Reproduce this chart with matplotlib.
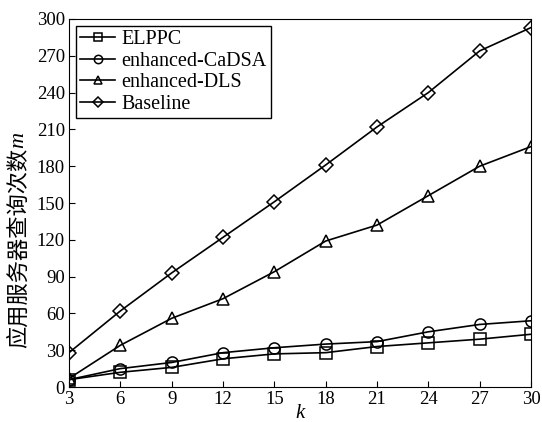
import matplotlib.pyplot as plt

plt.rcParams['font.family'] = ['Liberation Serif', 'Noto Sans CJK SC']

k = [3, 6, 9, 12, 15, 18, 21, 24, 27, 30]
elppc = [6, 12, 16, 23, 27, 28, 33, 36, 39, 43]
cadsa = [6, 15, 20, 28, 32, 35, 37, 45, 51, 54]
dls = [7, 34, 56, 72, 94, 119, 132, 156, 180, 196]
baseline = [28, 62, 93, 122, 151, 181, 212, 240, 274, 293]

series = [
    ("ELPPC", elppc, "s"),
    ("enhanced-CaDSA", cadsa, "o"),
    ("enhanced-DLS", dls, "^"),
    ("Baseline", baseline, "D"),
]

fig = plt.figure(figsize=(5.42, 4.22), dpi=100)
ax = fig.add_axes([0.1273, 0.0829, 0.8524, 0.8721])

for name, vals, mk in series:
    ms = 7 if mk == "D" else 8
    ax.plot(k, vals, color="black", linewidth=1.2, marker=mk, markersize=ms,
            markerfacecolor="none", markeredgewidth=1.1, label=name)

ax.set_xlim(3, 30)
ax.set_ylim(0, 300)
ax.set_xticks(k)
ax.set_yticks(range(0, 301, 30))
ax.tick_params(direction="in", labelsize=13.5, length=4, pad=3)
ax.set_xlabel("k", fontsize=15, fontstyle="italic", labelpad=-3)

# y label: Chinese text followed by an italic m
ylab = ax.text(-0.109, 0.106, "应用服务器查询次数", rotation=90, ha="center", va="bottom",
               fontsize=16, family=["Noto Sans CJK SC"], transform=ax.transAxes)
fig.canvas.draw()
bb = ylab.get_window_extent().transformed(ax.transAxes.inverted())
ax.text(-0.109, bb.y1, "m", rotation=90, ha="center", va="bottom",
        fontsize=16, fontstyle="italic", transform=ax.transAxes)

leg = ax.legend(loc="upper left", fontsize=14.5, frameon=True, fancybox=False,
                edgecolor="black", framealpha=1, borderaxespad=0.35,
                handlelength=1.75, labelspacing=0.12, borderpad=0.2,
                handletextpad=0.3, markerscale=0.75)
leg.get_frame().set_linewidth(1.0)

plt.savefig("out.png")
